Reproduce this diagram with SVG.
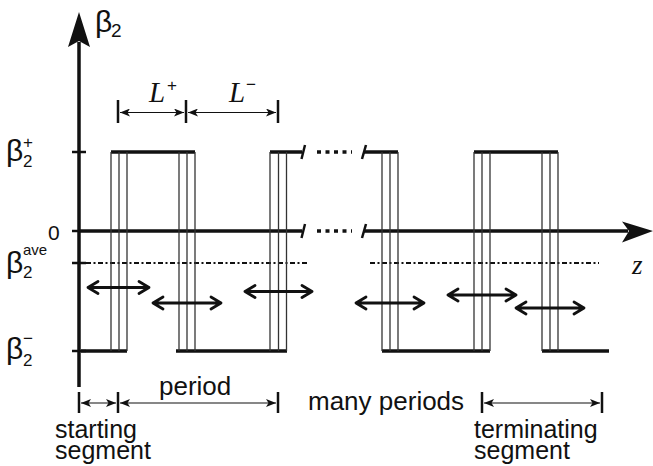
<svg xmlns="http://www.w3.org/2000/svg" width="653" height="466" viewBox="0 0 653 466">
  <style>
    .sans { font-family: "Liberation Sans", Arial, sans-serif; fill: #111; }
    .ital { font-family: "Liberation Serif", "Times New Roman", serif; font-style: italic; fill: #111; }
    .thick { stroke: #111; stroke-width: 3.5; fill: none; }
    .tick { stroke: #111; stroke-width: 2.5; fill: none; }
    .edge { stroke: #333; stroke-width: 1.3; fill: none; }
    .ave { stroke: #111; stroke-width: 2.2; stroke-dasharray: 5 2.5 2 2.5; fill: none; }
    .gap { stroke: #111; stroke-width: 3.5; stroke-dasharray: 4 4.5; fill: none; }
    .dbl { stroke: #111; stroke-width: 2.8; fill: none; stroke-linecap: round; stroke-linejoin: round; }
    .dim { stroke: #111; stroke-width: 1.2; fill: none; }
  </style>
  <defs>
    <marker id="dimHead" viewBox="0 0 10 8" refX="10" refY="4" markerWidth="11" markerHeight="8" markerUnits="userSpaceOnUse" orient="auto-start-reverse">
      <path d="M0,0 L10,4 L0,8 L2.5,4 Z" fill="#111"/>
    </marker>
  </defs>

  <!-- axes -->
  <g id="axes">
    <line class="thick" x1="79" y1="387" x2="79" y2="42"/>
    <path d="M79,12 L90,47 L79,41 L68,47 Z" fill="#111"/>
    <line class="thick" x1="79" y1="231" x2="302" y2="231"/>
    <line class="thick" x1="364" y1="231" x2="628" y2="231"/>
    <path d="M653,231 L622,221.5 L629,231 L622,242.5 Z" fill="#111"/>
    <line class="tick" x1="72" y1="152" x2="86" y2="152"/>
    <line class="tick" x1="72" y1="231" x2="79" y2="231"/>
    <line class="tick" x1="72" y1="263" x2="86" y2="263"/>
    <line class="tick" x1="72" y1="351" x2="86" y2="351"/>
    <!-- axis breaks -->
    <line class="tick" x1="301.5" y1="159" x2="305" y2="145"/>
    <line class="tick" x1="301.5" y1="238" x2="305" y2="224"/>
    <line class="tick" x1="362" y1="159" x2="366" y2="145"/>
    <line class="tick" x1="362" y1="238" x2="366" y2="224"/>
    <line class="gap" x1="317" y1="152" x2="352" y2="152"/>
    <line class="gap" x1="317" y1="231" x2="352" y2="231"/>
  </g>

  <!-- axis labels -->
  <g id="labels">
    <text class="sans" font-size="30" x="95" y="32">β<tspan font-size="19" x="111" y="37">2</tspan></text>
    <text class="sans" font-size="30" x="6" y="161">β<tspan font-size="17" x="23" y="148">+</tspan><tspan font-size="17" x="23" y="167">2</tspan></text>
    <text class="sans" font-size="21" x="48" y="240">0</text>
    <text class="sans" font-size="30" x="6" y="273">β<tspan font-size="15" x="23" y="255">ave</tspan><tspan font-size="17" x="23" y="278">2</tspan></text>
    <text class="sans" font-size="30" x="6" y="359">β<tspan font-size="17" x="23" y="344">−</tspan><tspan font-size="17" x="23" y="366">2</tspan></text>
    <text class="ital" font-size="27" x="632" y="274">z</text>
  </g>

  <!-- average level -->
  <g id="average">
    <line class="ave" x1="86" y1="263" x2="308" y2="263"/>
    <line class="ave" x1="370" y1="263" x2="599" y2="263"/>
  </g>

  <!-- square wave of the dispersion map -->
  <g id="wave">
    <line class="thick" x1="111" y1="152" x2="195" y2="152"/>
    <line class="thick" x1="270" y1="152" x2="302" y2="152"/>
    <line class="thick" x1="364" y1="152" x2="398" y2="152"/>
    <line class="thick" x1="474" y1="152" x2="558" y2="152"/>
    <line class="thick" x1="81" y1="351" x2="127" y2="351"/>
    <line class="thick" x1="176" y1="351" x2="287" y2="351"/>
    <line class="thick" x1="382" y1="351" x2="490" y2="351"/>
    <line class="thick" x1="542" y1="351" x2="609" y2="351"/>
    <g id="edges">
      <line class="edge" x1="111" y1="152" x2="111" y2="351"/>
      <line class="edge" x1="119" y1="152" x2="119" y2="351"/>
      <line class="edge" x1="127" y1="152" x2="127" y2="351"/>
      <line class="edge" x1="179" y1="152" x2="179" y2="351"/>
      <line class="edge" x1="187" y1="152" x2="187" y2="351"/>
      <line class="edge" x1="195" y1="152" x2="195" y2="351"/>
      <line class="edge" x1="270" y1="152" x2="270" y2="351"/>
      <line class="edge" x1="278.5" y1="152" x2="278.5" y2="351"/>
      <line class="edge" x1="286.5" y1="152" x2="286.5" y2="351"/>
      <line class="edge" x1="382" y1="152" x2="382" y2="351"/>
      <line class="edge" x1="390" y1="152" x2="390" y2="351"/>
      <line class="edge" x1="398" y1="152" x2="398" y2="351"/>
      <line class="edge" x1="474" y1="152" x2="474" y2="351"/>
      <line class="edge" x1="482" y1="152" x2="482" y2="351"/>
      <line class="edge" x1="490" y1="152" x2="490" y2="351"/>
      <line class="edge" x1="542" y1="152" x2="542" y2="351"/>
      <line class="edge" x1="550" y1="152" x2="550" y2="351"/>
      <line class="edge" x1="558" y1="152" x2="558" y2="351"/>
    </g>
  </g>

  <!-- double-headed shift arrows -->
  <g id="shifts">
    <path class="dbl" d="M88,287.5 H149 M98,281.5 L88,287.5 L98,293.5 M139,281.5 L149,287.5 L139,293.5"/>
    <path class="dbl" d="M153,303 H221 M163,297 L153,303 L163,309 M211,297 L221,303 L211,309"/>
    <path class="dbl" d="M245,291.5 H312 M255,285.5 L245,291.5 L255,297.5 M302,285.5 L312,291.5 L302,297.5"/>
    <path class="dbl" d="M356,303 H424 M366,297 L356,303 L366,309 M414,297 L424,303 L414,309"/>
    <path class="dbl" d="M448,295 H516 M458,289 L448,295 L458,301 M506,289 L516,295 L506,301"/>
    <path class="dbl" d="M516,308 H584 M526,302 L516,308 L526,314 M574,302 L584,308 L574,314"/>
  </g>

  <!-- length dimensions -->
  <g id="dimensions">
    <line class="tick" x1="118" y1="100" x2="118" y2="123"/>
    <line class="tick" x1="186" y1="100" x2="186" y2="123"/>
    <line class="tick" x1="278" y1="100" x2="278" y2="123"/>
    <line class="dim" x1="120" y1="112.5" x2="184" y2="112.5" marker-start="url(#dimHead)" marker-end="url(#dimHead)"/>
    <line class="dim" x1="188" y1="112.5" x2="276" y2="112.5" marker-start="url(#dimHead)" marker-end="url(#dimHead)"/>
    <text class="ital" font-size="29" x="149" y="102">L<tspan class="sans" font-size="17" x="167" y="91" font-style="normal">+</tspan></text>
    <text class="ital" font-size="29" x="229" y="102">L<tspan class="sans" font-size="17" x="246" y="90" font-style="normal">−</tspan></text>

    <line class="tick" x1="79" y1="392" x2="79" y2="413"/>
    <line class="tick" x1="118" y1="392" x2="118" y2="413"/>
    <line class="tick" x1="278" y1="392" x2="278" y2="413"/>
    <line class="dim" x1="81" y1="403" x2="116" y2="403" marker-start="url(#dimHead)" marker-end="url(#dimHead)"/>
    <line class="dim" x1="120" y1="403" x2="276" y2="403" marker-start="url(#dimHead)" marker-end="url(#dimHead)"/>
    <line class="tick" x1="482" y1="392" x2="482" y2="413"/>
    <line class="tick" x1="602" y1="392" x2="602" y2="413"/>
    <line class="dim" x1="484" y1="403" x2="600" y2="403" marker-start="url(#dimHead)" marker-end="url(#dimHead)"/>

    <text class="sans" font-size="26" x="159" y="395">period</text>
    <text class="sans" font-size="26" x="308" y="410">many periods</text>
    <text class="sans" font-size="25" x="55" y="438">starting</text>
    <text class="sans" font-size="25" x="55" y="459">segment</text>
    <text class="sans" font-size="25" x="474" y="438">terminating</text>
    <text class="sans" font-size="25" x="474" y="459">segment</text>
  </g>
</svg>
